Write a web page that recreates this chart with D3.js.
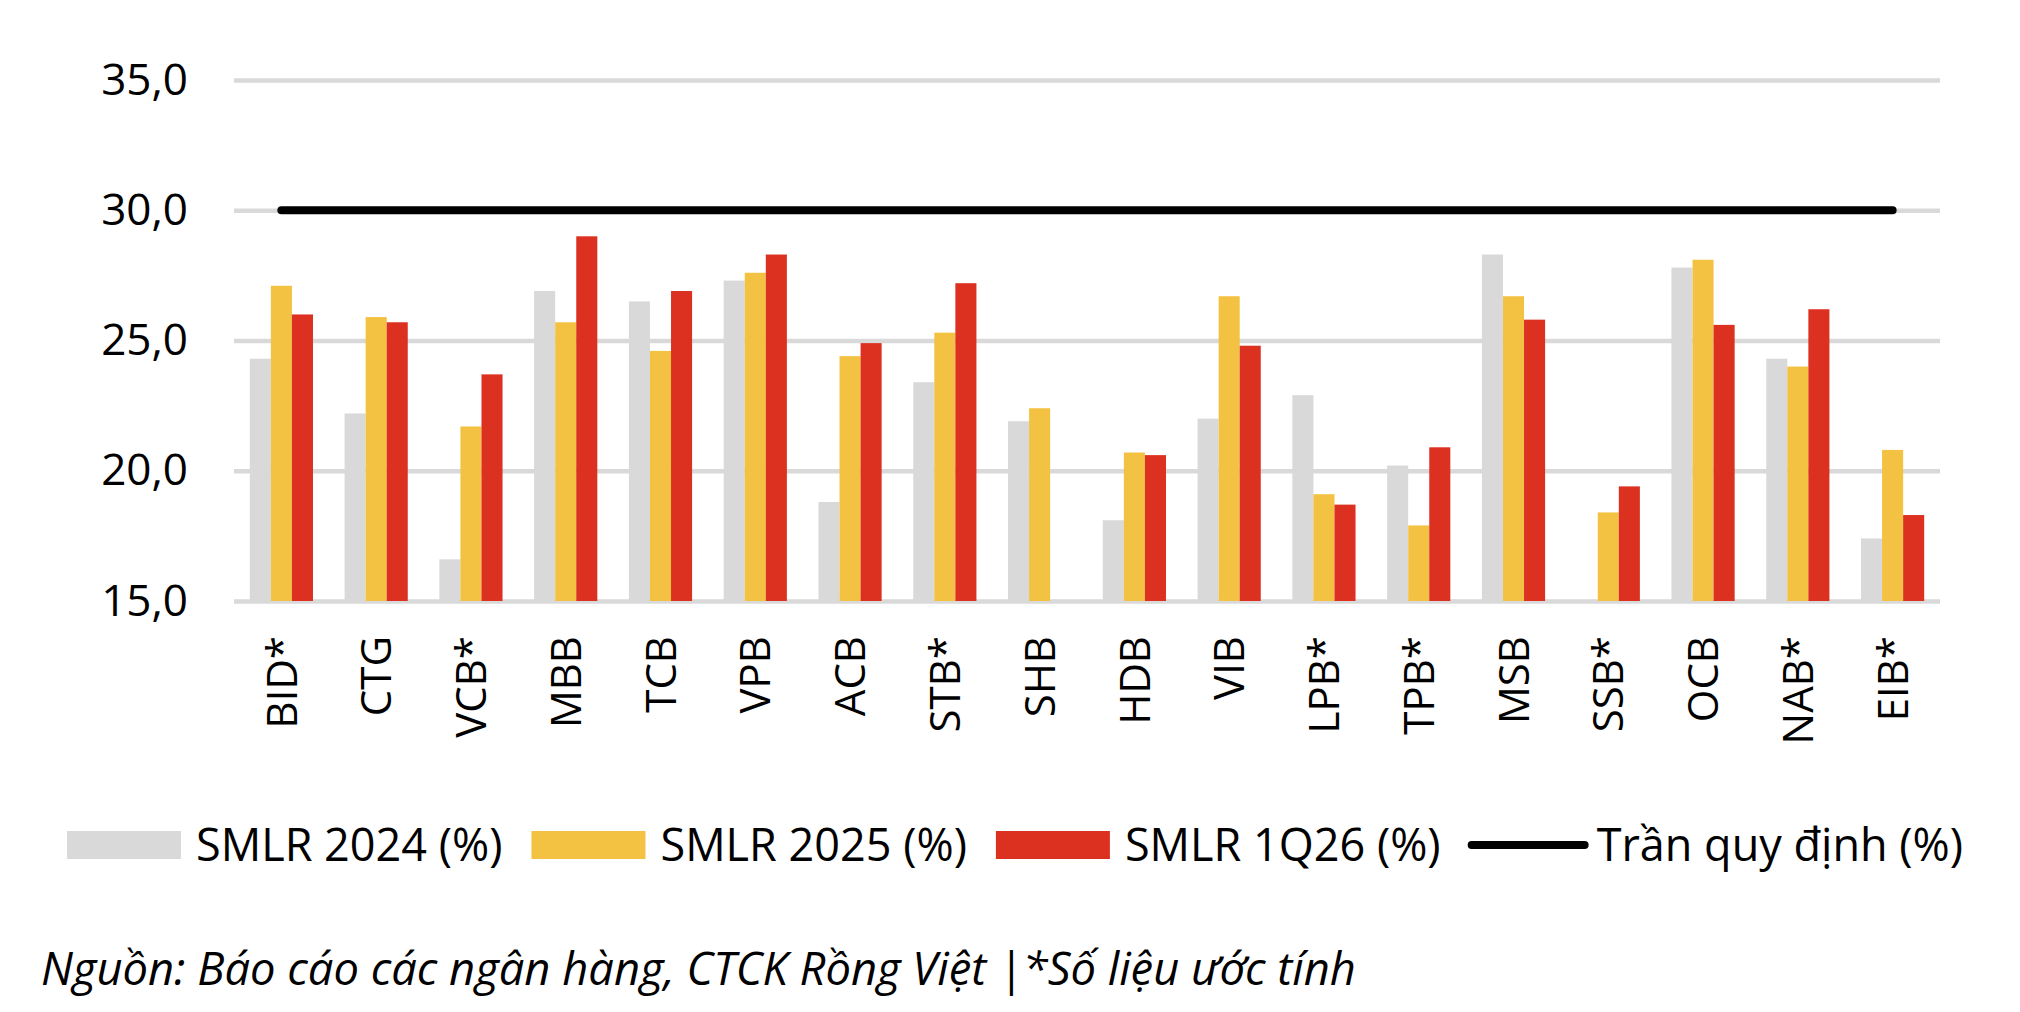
<!DOCTYPE html>
<html>
<head>
<meta charset="utf-8">
<script src="https://cdnjs.cloudflare.com/ajax/libs/d3/7.8.5/d3.min.js"></script>
<style>
  body { margin: 0; background: #ffffff; }
  text { font-family: "Open Sans", "Noto Sans", sans-serif; fill: #000000; }
</style>
</head>
<body>
<div id="divchart"></div>
<script>
//Data
var banks = ["BID*", "CTG", "VCB*", "MBB", "TCB", "VPB", "ACB", "STB*", "SHB",
             "HDB", "VIB", "LPB*", "TPB*", "MSB", "SSB*", "OCB", "NAB*", "EIB*"]
var smlr2024 = [24.3, 22.2, 16.6, 26.9, 26.5, 27.3, 18.8, 23.4, 21.9,
                18.1, 22.0, 22.9, 20.2, 28.3, null, 27.8, 24.3, 17.4]
var smlr2025 = [27.1, 25.9, 21.7, 25.7, 24.6, 27.6, 24.4, 25.3, 22.4,
                20.7, 26.7, 19.1, 17.9, 26.7, 18.4, 28.1, 24.0, 20.8]
var smlr1Q26 = [26.0, 25.7, 23.7, 29.0, 26.9, 28.3, 24.9, 27.2, null,
                20.6, 24.8, 18.7, 20.9, 25.8, 19.4, 25.6, 26.2, 18.3]
var capValue = 30
var yTicks = [15, 20, 25, 30, 35]
var seriesNames = ["SMLR 2024 (%)", "SMLR 2025 (%)", "SMLR 1Q26 (%)"]
var capName = "Trần quy định (%)"
var sourceNote = "Nguồn: Báo cáo các ngân hàng, CTCK Rồng Việt |*Số liệu ước tính"

var colors = ["#d9d9d9", "#f4c243", "#dc3121"]

//Size of the SVG
var width = 2020
var height = 1012
var margin = { top: 80, left: 234, right: 80, bottom: 411 }

var svg = d3.select("#divchart")
            .append("svg")
            .attr("width", width)
            .attr("height", height)

var chart = svg.append("g")
               .attr("transform", "translate(" + margin.left + "," + margin.top + ")")

var plotW = width - margin.left - margin.right
var plotH = height - margin.top - margin.bottom

//Scales
var x = d3.scaleBand()
          .domain(banks)
          .range([0, plotW])

var xInner = d3.scaleBand()
               .domain([0, 1, 2])
               .range([x.bandwidth() / 6, x.bandwidth() * 5 / 6])

var y = d3.scaleLinear()
          .domain([15, 35])
          .range([plotH, 0])

//Grid lines
chart.append("g")
     .attr("class", "grid")
     .call(d3.axisLeft(y).tickValues(yTicks).tickSize(-plotW).tickFormat(""))
     .call(g => g.select(".domain").remove())
     .selectAll("line")
     .attr("stroke", "#d9d9d9")
     .attr("stroke-width", 4.5)

//Y labels, with comma as decimal mark
chart.append("g")
     .attr("transform", "translate(-46,0)")
     .call(d3.axisLeft(y).tickValues(yTicks).tickSize(0).tickPadding(0)
             .tickFormat(d => d3.format(".1f")(d).replace(".", ",")))
     .call(g => g.select(".domain").remove())
     .selectAll("text")
     .style("font-family", "'Open Sans', sans-serif")
     .style("font-size", "44px")
     .attr("fill", "#000")

//Bars, one group per bank
var allSeries = [smlr2024, smlr2025, smlr1Q26]
allSeries.forEach(function (values, s) {
  chart.append("g")
       .selectAll("rect")
       .data(banks.map((b, i) => ({ bank: b, value: values[i] })).filter(d => d.value != null))
       .enter()
       .append("rect")
       .attr("x", d => x(d.bank) + xInner(s))
       .attr("width", xInner.bandwidth())
       .attr("y", d => y(d.value))
       .attr("height", d => y(15) - y(d.value))
       .attr("fill", colors[s])
})

//Regulatory cap line
var capLine = d3.line()
                .x(d => x(d) + x.bandwidth() / 2)
                .y(() => y(capValue))

chart.append("path")
     .datum(banks)
     .attr("d", capLine)
     .attr("fill", "none")
     .attr("stroke", "#000")
     .attr("stroke-width", 8)
     .attr("stroke-linecap", "round")

//X labels, rotated
chart.append("g")
     .attr("transform", "translate(0," + plotH + ")")
     .call(d3.axisBottom(x).tickSize(0))
     .call(g => g.select(".domain").remove())
     .selectAll("text")
     .style("font-family", "'Open Sans', sans-serif")
     .style("font-size", "42px")
     .attr("fill", "#000")
     .attr("transform", "rotate(-90)")
     .attr("x", -35)
     .attr("y", 0)
     .attr("dy", "0.36em")
     .style("text-anchor", "end")

//Legend
var legend = svg.append("g").attr("transform", "translate(67,845)")
var legendX = 0
seriesNames.concat([capName]).forEach(function (name, i) {
  var textX
  if (i < 3) {
    legend.append("rect")
          .attr("x", legendX)
          .attr("y", -14)
          .attr("width", 114)
          .attr("height", 28)
          .attr("fill", colors[i])
    textX = legendX + 129
  } else {
    legend.append("line")
          .attr("x1", legendX + 2)
          .attr("x2", legendX + 115)
          .attr("stroke", "#000")
          .attr("stroke-width", 8)
          .attr("stroke-linecap", "round")
    textX = legendX + 127
  }
  var t = legend.append("text")
                .attr("x", textX)
                .attr("dy", "0.35em")
                .style("font-size", "45px")
                .text(name)
  legendX = textX + t.node().getComputedTextLength() + 29
})

//Source note
svg.append("text")
   .attr("x", 41)
   .attr("y", 985)
   .style("font-size", "45.3px")
   .style("font-style", "italic")
   .text(sourceNote)
</script>
</body>
</html>
